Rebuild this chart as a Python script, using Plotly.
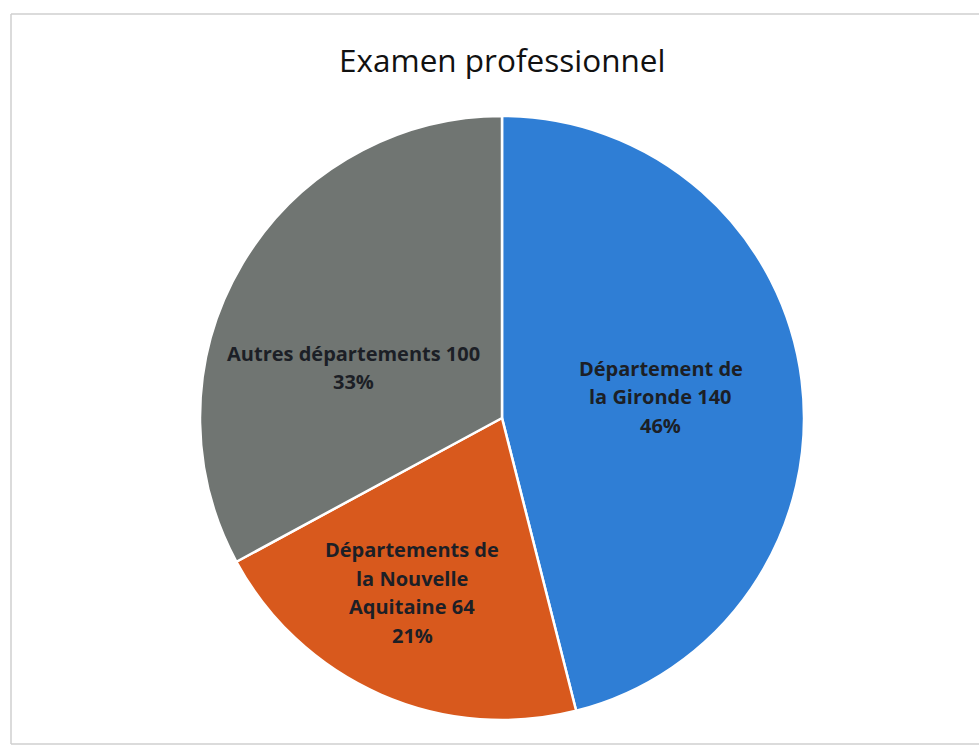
import math
import plotly.graph_objects as go

labels = ["Département de la Gironde", "Départements de la Nouvelle Aquitaine", "Autres départements"]
values = [140, 64, 100]
label_lines = [
    ["Département de", "la Gironde 140", "46%"],
    ["Départements de", "la Nouvelle", "Aquitaine 64", "21%"],
    ["Autres départements 100", "33%"],
]
colors = ["#2f7ed5", "#d8591d", "#707572"]

W, H = 979, 745
cx, cy, R = 502, 418, 302

fig = go.Figure()
fig.add_trace(go.Pie(
    labels=labels, values=values, sort=False, direction="clockwise", rotation=0,
    marker=dict(colors=colors, line=dict(color="white", width=2.5)),
    textinfo="none", hoverinfo="label+value+percent", showlegend=False,
    domain=dict(x=[(cx - R) / W, (cx + R) / W], y=[1 - (cy + R) / H, 1 - (cy - R) / H]),
))

# label placement: radial fraction per slice, along slice mid-angle (computed from data)
radial = [0.53, 0.65, 0.52]
ang_shift = [0.5, -3.5, 12.0]  # degrees tweak
total = sum(values)
cum = 0
annotations = []
for v, lines, rf, sh in zip(values, label_lines, radial, ang_shift):
    mid = (cum + v / 2) / total * 360
    cum += v
    a = math.radians(90 - mid + sh)
    x = cx + rf * R * math.cos(a)
    y = cy - rf * R * math.sin(a)
    n = len(lines)
    for i, t in enumerate(lines):
        yy = y + (i - (n - 1) / 2) * 28.5
        annotations.append(dict(
            x=x / W, y=1 - yy / H, xref="paper", yref="paper", text=f"<b>{t}</b>",
            showarrow=False, xanchor="center", yanchor="middle",
            font=dict(family="'Open Sans', 'DejaVu Sans', sans-serif", size=20, color="#1c1f26"),
        ))

annotations.append(dict(
    x=502 / W, y=1 - 60 / H, xref="paper", yref="paper", text="Examen professionnel",
    showarrow=False, xanchor="center", yanchor="middle",
    font=dict(family="'Open Sans', 'DejaVu Sans', sans-serif", size=31.5, color="#111111"),
))

bx0, by0, by1 = 11 / W, 1 - 14 / H, 1 - 744 / H
border = dict(color="#cfcfcf", width=1.5)
fig.update_layout(
    width=W, height=H, margin=dict(l=0, r=0, t=0, b=0),
    paper_bgcolor="white", plot_bgcolor="white",
    annotations=annotations,
    shapes=[
        dict(type="line", xref="paper", yref="paper", x0=bx0, x1=bx0, y0=by1, y1=by0, line=border),
        dict(type="line", xref="paper", yref="paper", x0=bx0, x1=1.0, y0=by0, y1=by0, line=border),
        dict(type="line", xref="paper", yref="paper", x0=bx0, x1=1.0, y0=by1, y1=by1, line=border),
    ],
)

fig.write_html(
    "out.html",
    config={"displayModeBar": False},
    post_script="document.body.style.margin='0';document.body.style.overflow='hidden';",
)
